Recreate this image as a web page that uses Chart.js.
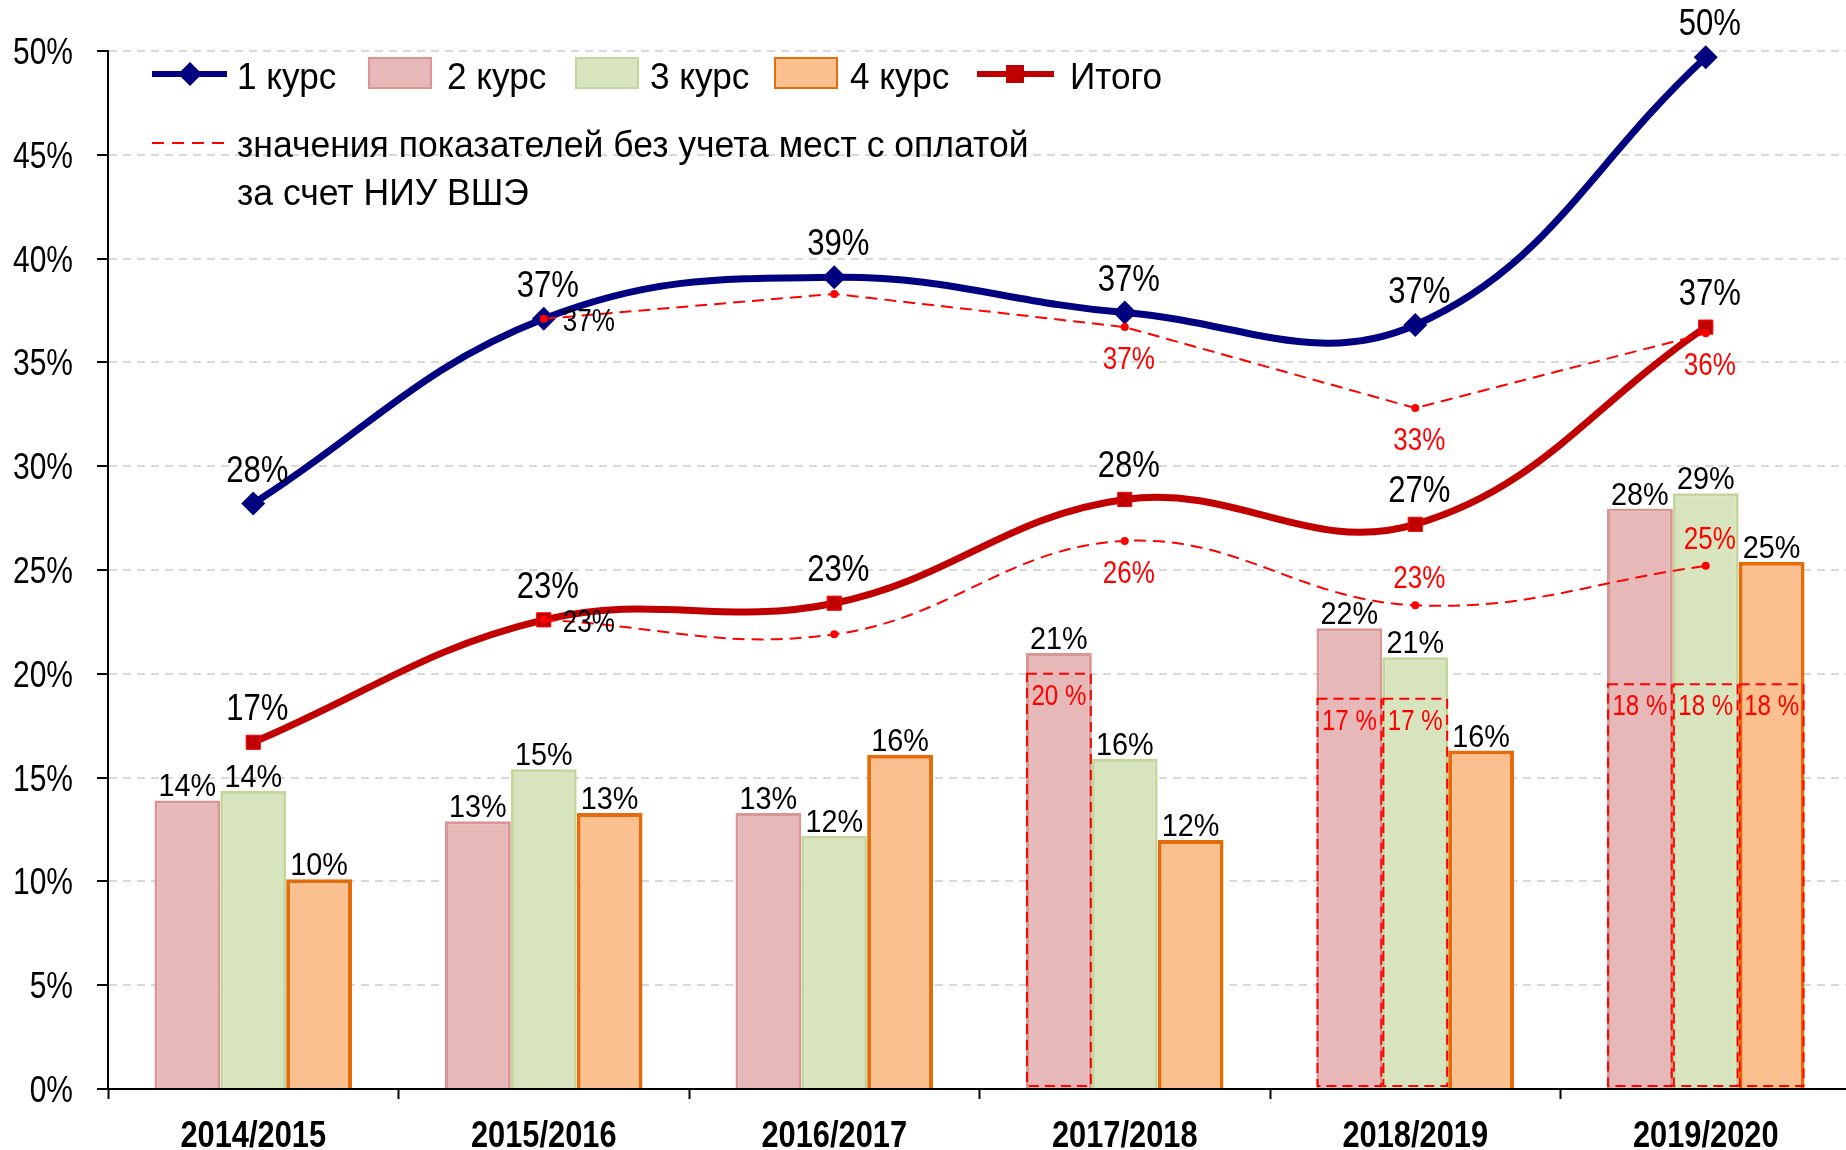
<!DOCTYPE html>
<html><head><meta charset="utf-8">
<script src="https://cdn.jsdelivr.net/npm/chart.js@4.4.0/dist/chart.umd.min.js"></script>
<style>
html,body{margin:0;padding:0;overflow:hidden;background:#fff;width:1846px;height:1150px}
#c{position:absolute;left:0;top:0;width:1863px;height:1150px}
</style>
</head><body><canvas id="c" width="1863" height="1150"></canvas>
<script>
// ---- data ----
const categories = ['2014/2015','2015/2016','2016/2017','2017/2018','2018/2019','2019/2020'];
const course1 = [28.2, 37.1, 39.1, 37.4, 36.8, 49.7];
const course2 = [13.9, 12.9, 13.3, 21.0, 22.2, 27.96];
const course3 = [14.35, 15.4, 12.2, 15.9, 20.8, 28.7];
const course4 = [10.1, 13.3, 16.1, 12.0, 16.3, 25.4];
const total   = [16.7, 22.6, 23.4, 28.4, 27.2, 36.7];
const course1NoHse = [null, 37.1, 38.3, 36.7, 32.8, 36.4];
const totalNoHse   = [null, 22.6, 21.9, 26.4, 23.3, 25.2];
const course2NoHse = [null, null, null, 20.0, 18.8, 19.5];
const course3NoHse = [null, null, null, null, 18.8, 19.5];
const course4NoHse = [null, null, null, null, null, 19.5];
const course2NoHseLabels = ['', '', '', '20 %', '17 %', '18 %'];
const course3NoHseLabels = ['', '', '', '', '17 %', '18 %'];
const course4NoHseLabels = ['', '', '', '', '', '18 %'];
const yTickValues = [0, 5, 10, 15, 20, 25, 30, 35, 40, 45, 50];
const seriesNames = ['1 курс', '2 курс', '3 курс', '4 курс', 'Итого'];
const noteLines = ['значения показателей без учета мест с оплатой', 'за счет НИУ ВШЭ'];

// ---- styles ----
const FAM = '"Liberation Sans",Arial,sans-serif';
const C1 = '#000080', CT = '#C00000', RED = '#FF0000';
const FILL2 = '#E6B8B7', LINE2 = '#D99694';
const FILL3 = '#D7E4BD', LINE3 = '#C3D69B';
const FILL4 = '#FAC090', LINE4 = '#E46C0A';

const pct = v => Math.round(v) + '%';

function txt(ctx, text, x, y, size, ratio, color, align, weight) {
  ctx.save();
  ctx.font = (weight || '') + ' ' + size + 'px ' + FAM;
  ctx.fillStyle = color; ctx.textAlign = align || 'center'; ctx.textBaseline = 'alphabetic';
  ctx.translate(x, y); ctx.scale(ratio, 1);
  ctx.fillText(text, 0, 0);
  ctx.restore();
}

const placement = {
  course1NoHse: [null, 'right', null, 'below', 'below', 'below'],
  totalNoHse:   [null, 'right', null, 'below', 'above', 'above']
};

const labelPlugin = {
  id: 'labelPlugin',
  afterDatasetsDraw(chart) {
    const ctx = chart.ctx;
    const ys = chart.scales.y;
    // dashed boxes (values without HSE-paid places)
    const boxSets = [course2NoHse, course3NoHse, course4NoHse];
    const boxLabels = [course2NoHseLabels, course3NoHseLabels, course4NoHseLabels];
    boxSets.forEach((vals, di) => {
      const meta = chart.getDatasetMeta(di);
      vals.forEach((v, i) => {
        if (v == null) return;
        const el = meta.data[i];
        const left = el.x - el.width / 2, right = el.x + el.width / 2;
        const top = ys.getPixelForValue(v), bottom = ys.getPixelForValue(0) - 3;
        ctx.save();
        ctx.setLineDash([10, 6]);
        ctx.strokeStyle = RED; ctx.lineWidth = 2;
        ctx.strokeRect(left + 1, top, right - left - 2, bottom - top);
        ctx.restore();
        txt(ctx, boxLabels[di][i], el.x, top + 31, 29, 0.83, RED);
      });
    });
    // bar labels
    [course2, course3, course4].forEach((vals, di) => {
      const meta = chart.getDatasetMeta(di);
      vals.forEach((v, i) => {
        const el = meta.data[i];
        txt(ctx, pct(v), el.x, el.y - 4, 31, 0.93, '#000');
      });
    });
    // solid line labels
    [[3, course1], [4, total]].forEach(([di, vals]) => {
      const meta = chart.getDatasetMeta(di);
      vals.forEach((v, i) => {
        const el = meta.data[i];
        txt(ctx, pct(v), el.x + 4, el.y - 22, 37, 0.84, '#000');
      });
    });
    // dashed line labels
    [[5, course1NoHse, placement.course1NoHse], [6, totalNoHse, placement.totalNoHse]].forEach(([di, vals, pl]) => {
      const meta = chart.getDatasetMeta(di);
      vals.forEach((v, i) => {
        if (v == null || !pl[i]) return;
        const el = meta.data[i];
        if (pl[i] === 'right') txt(ctx, pct(v), el.x + 45, el.y + 12, 31, 0.84, '#000');
        else if (pl[i] === 'below') txt(ctx, pct(v), el.x + 4, el.y + 42, 31, 0.84, RED);
        else txt(ctx, pct(v), el.x + 4, el.y - 17, 31, 0.84, RED);
      });
    });
  },
  afterDraw(chart) {
    const ctx = chart.ctx;
    const xs = chart.scales.x, ys = chart.scales.y;
    // axis tick labels
    yTickValues.forEach(v => txt(ctx, v + '%', 73, ys.getPixelForValue(v) + 13, 37, 0.81, '#000', 'right'));
    categories.forEach((c, i) => txt(ctx, c, xs.getPixelForValue(i), 1147, 36, 0.855, '#000', 'center', 'bold'));

    // legend
    ctx.save();
    const yc = 74, base = 89, LR = 0.95, LS = 37;
    ctx.strokeStyle = C1; ctx.lineWidth = 6;
    ctx.beginPath(); ctx.moveTo(152, yc); ctx.lineTo(227, yc); ctx.stroke();
    ctx.fillStyle = C1; ctx.beginPath();
    ctx.moveTo(190, yc - 12); ctx.lineTo(202, yc); ctx.lineTo(190, yc + 12); ctx.lineTo(178, yc); ctx.closePath(); ctx.fill();
    txt(ctx, seriesNames[0], 237, base, LS, LR, '#000', 'left');
    const boxes = [[369, FILL2, LINE2, 447, seriesNames[1]], [576, FILL3, LINE3, 650, seriesNames[2]], [775, FILL4, LINE4, 850, seriesNames[3]]];
    boxes.forEach(([x, f, s, tx, name]) => {
      ctx.fillStyle = f; ctx.fillRect(x, 58, 62, 30);
      ctx.strokeStyle = s; ctx.lineWidth = 2; ctx.strokeRect(x, 58, 62, 30);
      txt(ctx, name, tx, base, LS, LR, '#000', 'left');
    });
    ctx.strokeStyle = CT; ctx.lineWidth = 6;
    ctx.beginPath(); ctx.moveTo(977, yc); ctx.lineTo(1054, yc); ctx.stroke();
    ctx.fillStyle = CT; ctx.fillRect(1006, yc - 9, 18, 18);
    txt(ctx, seriesNames[4], 1070, base, LS, LR, '#000', 'left');
    ctx.strokeStyle = RED; ctx.lineWidth = 2; ctx.setLineDash([12, 8]);
    ctx.beginPath(); ctx.moveTo(152, 143); ctx.lineTo(227, 143); ctx.stroke();
    ctx.setLineDash([]);
    txt(ctx, noteLines[0], 237, 157, LS, 0.96, '#000', 'left');
    txt(ctx, noteLines[1], 237, 205, LS, 0.96, '#000', 'left');
    ctx.restore();
  }
};

Chart.defaults.font.family = FAM;
Chart.defaults.color = '#000';

new Chart(document.getElementById('c'), {
  type: 'bar',
  data: {
    labels: categories,
    datasets: [
      { label: seriesNames[1], data: course2, backgroundColor: FILL2, borderColor: LINE2, borderWidth: 3, order: 2 },
      { label: seriesNames[2], data: course3, backgroundColor: FILL3, borderColor: LINE3, borderWidth: 3, order: 2 },
      { label: seriesNames[3], data: course4, backgroundColor: FILL4, borderColor: LINE4, borderWidth: 4, order: 2 },
      { type: 'line', label: seriesNames[0], data: course1, borderColor: C1, backgroundColor: C1, borderWidth: 7,
        tension: 0.4, pointStyle: 'rectRot', pointRadius: 12, pointBorderWidth: 0, pointBackgroundColor: C1, order: 1, clip: false },
      { type: 'line', label: seriesNames[4], data: total, borderColor: CT, backgroundColor: CT, borderWidth: 7,
        tension: 0.4, pointStyle: 'rect', pointRadius: 10, pointBorderWidth: 1, pointBorderColor: '#FF0000', pointBackgroundColor: CT, order: 1, clip: false },
      { type: 'line', label: noteLines[0], data: course1NoHse, borderColor: RED, backgroundColor: RED, borderWidth: 2,
        borderDash: [12, 7], tension: 0, pointRadius: 4, pointBorderWidth: 0, pointBackgroundColor: RED, order: 0, clip: false },
      { type: 'line', label: noteLines[1], data: totalNoHse, borderColor: RED, backgroundColor: RED, borderWidth: 2,
        borderDash: [12, 7], tension: 0.4, pointRadius: 4, pointBorderWidth: 0, pointBackgroundColor: RED, order: 0, clip: false }
    ]
  },
  options: {
    responsive: false, maintainAspectRatio: false, animation: false, devicePixelRatio: 1,
    layout: { padding: { top: 51, left: 0, right: 0, bottom: 0 } },
    datasets: { bar: { categoryPercentage: 0.68, barPercentage: 1.0, borderSkipped: 'start' } },
    plugins: { legend: { display: false }, tooltip: { enabled: false }, title: { display: false } },
    scales: {
      x: {
        offset: true,
        grid: { offset: true, drawOnChartArea: false, drawTicks: true, tickLength: 10, tickColor: '#000', tickWidth: 2 },
        border: { color: '#000', width: 2 },
        ticks: { display: false },
        afterFit(s) { s.height = 61; }
      },
      y: {
        min: 0, max: 50,
        afterBuildTicks(s) { s.ticks = yTickValues.map(v => ({ value: v })); },
        ticks: { display: false },
        grid: { color: '#D9D9D9', lineWidth: 2, tickColor: '#000', tickLength: 11, tickWidth: 2, tickBorderDash: [] },
        border: { color: '#000', width: 2, dash: [8, 6] },
        afterFit(s) { s.width = 108; }
      }
    }
  },
  plugins: [labelPlugin]
});
</script>
</body></html>
